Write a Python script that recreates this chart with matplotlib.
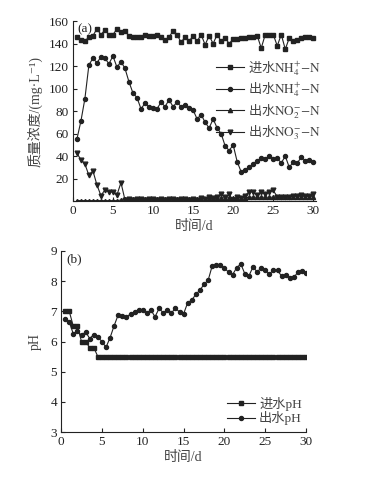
import matplotlib
matplotlib.use("Agg")
import matplotlib.pyplot as plt
import numpy as np

plt.rcParams["font.family"] = ["Liberation Serif", "DejaVu Serif", "Noto Sans CJK SC"]
plt.rcParams["mathtext.fontset"] = "stix"
plt.rcParams["axes.unicode_minus"] = True

ink = "#222222"

# time axis, half-day sampling
days = np.arange(0.5, 30.01, 0.5)

# (a) nitrogen species, mg/L
inf_nh4 = [146, 143, 142, 146, 147, 153, 148, 152, 148, 148,
           153, 150, 151, 147, 146, 146, 146, 148, 147, 147,
           148, 146, 143, 146, 151, 148, 141, 146, 142, 147,
           142, 148, 139, 147, 140, 148, 142, 145, 140, 144,
           144, 145, 145, 146, 146, 147, 136, 148, 148, 148,
           138, 148, 135, 145, 142, 143, 145, 146, 146, 145]
eff_nh4 = [55, 71, 91, 121, 127, 123, 128, 127, 122, 129,
           119, 124, 118, 106, 96, 92, 82, 87, 84, 83,
           82, 88, 84, 90, 84, 88, 84, 85, 83, 81,
           73, 77, 70, 65, 73, 65, 60, 49, 45, 50,
           35, 26, 28, 30, 33, 36, 38, 37.5, 40, 37.5,
           38, 34, 40, 30, 35, 34, 39, 36, 36.5, 34.5]
eff_no2 = [0.5, 0.5, 0.5, 0.5, 0.5, 0.5, 0.5, 0.5, 0.5, 0.5,
           0.5, 1, 1.5, 1.5, 1.5, 1.5, 1.5, 1.5, 1.5, 1.5,
           1.5, 1.5, 1.5, 1.5, 1.5, 1.5, 1.5, 1.5, 1.5, 1.5,
           2, 2, 2, 2.5, 2.5, 2.5, 3, 3, 3, 3,
           3, 3, 3, 3.5, 3.5, 3.5, 3.5, 3.5, 3.5, 3.5,
           3.5, 3.5, 3.5, 3.5, 4, 4, 4, 4, 4, 4]
eff_no3 = [42.5, 37, 33, 23, 27, 14.5, 5, 10, 8.5, 8,
           5.5, 16.5, 1.2, 1.5, 1, 1.5, 2, 1, 1.5, 2,
           1, 1.5, 1, 1.5, 2, 1, 2, 1.5, 1, 1.5,
           1, 2.5, 2, 3.5, 2.5, 4, 6.5, 3.5, 6, 1,
           3.5, 3, 5, 8.5, 8, 5.5, 8.5, 6, 8.5, 9.5,
           4, 3.5, 4, 4, 4.5, 5, 5.5, 5, 4.5, 6]

# (b) pH
inf_ph = [7.0, 7.0, 6.5, 6.5, 6.0, 6.0, 5.8, 5.8] + [5.5] * 52
eff_ph = [6.76, 6.65, 6.25, 6.36, 6.2, 6.32, 6.1, 6.23, 6.15, 6.0,
          5.81, 6.13, 6.53, 6.89, 6.84, 6.8, 6.92, 6.98, 7.05, 7.04,
          6.95, 7.04, 6.82, 7.1, 6.95, 7.04, 6.95, 7.1, 6.98, 6.92,
          7.29, 7.37, 7.57, 7.7, 7.9, 8.03, 8.51, 8.53, 8.53, 8.43,
          8.3, 8.22, 8.45, 8.57, 8.24, 8.18, 8.48, 8.3, 8.45, 8.36,
          8.23, 8.38, 8.36, 8.16, 8.22, 8.12, 8.13, 8.3, 8.35, 8.28]

labels_a = [r"$\mathrm{NH_4^{+}{-}N}$", r"$\mathrm{NH_4^{+}{-}N}$",
            r"$\mathrm{NO_2^{-}{-}N}$", r"$\mathrm{NO_3^{-}{-}N}$"]
prefix_a = ["进水", "出水", "出水", "出水"]
labels_b = ["进水pH", "出水pH"]

fig = plt.figure(figsize=(3.68, 4.79), dpi=100)
ax1 = fig.add_axes([0.198, 0.580, 0.660, 0.376])
ax2 = fig.add_axes([0.166, 0.098, 0.666, 0.378])

kw = dict(color=ink, lw=0.8)
ax1.plot(days, inf_nh4, marker="s", ms=2.4, label=prefix_a[0] + labels_a[0], **kw)
ax1.plot(days, eff_nh4, marker="o", ms=2.9, label=prefix_a[1] + labels_a[1], **kw)
ax1.plot(days, eff_no2, marker="^", ms=3.0, label=prefix_a[2] + labels_a[2], **kw)
ax1.plot(days, eff_no3, marker="v", ms=3.4, label=prefix_a[3] + labels_a[3], **kw)

ax2.plot(days, inf_ph, marker="s", ms=2.4, label=labels_b[0], **kw)
ax2.plot(days, eff_ph, marker="o", ms=2.9, label=labels_b[1], **kw)

for ax in (ax1, ax2):
    for s in ("top", "right"):
        ax.spines[s].set_visible(False)
    for s in ("left", "bottom"):
        ax.spines[s].set_color(ink)
        ax.spines[s].set_linewidth(0.8)
    ax.tick_params(direction="in", length=3, width=0.8, colors=ink,
                   labelsize=9.5, pad=3)
    ax.set_xticks(range(0, 31, 5))
    ax.set_xlabel("时间/d", fontsize=10, color="#444444", labelpad=2)

ax1.set_xlim(0, 30.3)
ax1.set_ylim(0, 160)
ax1.set_yticks(range(0, 161, 20))
ax1.set_yticklabels([""] + [str(v) for v in range(20, 161, 20)])
ax1.set_ylabel("质量浓度/(mg·L⁻¹)", fontsize=10, color="#444444", labelpad=4)
ax1.text(0.02, 0.985, "(a)", transform=ax1.transAxes, fontsize=9.5,
         color=ink, va="top", ha="left")

ax2.set_xlim(0, 30)
ax2.set_ylim(3, 9)
ax2.set_yticks(range(3, 10))
ax2.set_ylabel("pH", fontsize=10, color="#444444", labelpad=6)
ax2.text(0.02, 0.985, "(b)", transform=ax2.transAxes, fontsize=9.5,
         color=ink, va="top", ha="left")

leg1 = ax1.legend(loc="upper left", bbox_to_anchor=(0.588, 0.877),
                  bbox_transform=fig.transFigure, frameon=False,
                  handlelength=2.1, handletextpad=0.3,
                  labelspacing=0.22, borderpad=0, borderaxespad=0,
                  prop={"family": ["Noto Sans CJK SC"], "size": 9.5})
leg2 = ax2.legend(loc="upper left", bbox_to_anchor=(0.618, 0.172),
                  bbox_transform=fig.transFigure, frameon=False,
                  handlelength=2.1, handletextpad=0.3,
                  labelspacing=0.05, borderpad=0, borderaxespad=0,
                  prop={"family": ["Liberation Serif", "Noto Sans CJK SC"], "size": 9.5})
for leg in (leg1, leg2):
    for t in leg.get_texts():
        t.set_color("#444444")

fig.savefig("out.png", dpi=100)
